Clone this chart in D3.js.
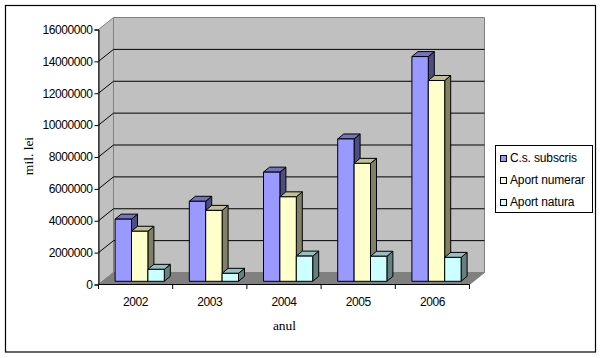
<!DOCTYPE html>
<html><head><meta charset="utf-8">
<script src="https://cdn.jsdelivr.net/npm/d3@7"></script>
<style>html,body{margin:0;padding:0;background:#fff}svg{display:block}</style></head>
<body><svg id="c" width="602" height="358"></svg>
<script>
const years = ["2002","2003","2004","2005","2006"];
const seriesNames = ["C.s. subscris","Aport numerar","Aport natura"];
const csSubscris = [3900000,5020000,6850000,8930000,14100000];
const aportNumerar = [3140000,4450000,5300000,7400000,12600000];
const aportNatura = [750000,500000,1580000,1570000,1500000];
const seriesValues = [csSubscris,aportNumerar,aportNatura];
const yTicks = [0,2000000,4000000,6000000,8000000,10000000,12000000,14000000,16000000];
const front = ["#9999FF","#FFFFCC","#CCFFFF"];
const topC = ["#7373BF","#BFBF99","#99BFBF"];
const sideC = ["#4D4D80","#808066","#668080"];

const svg = d3.select("#c");
const L=98.5,R=469.5,T=29.5,B=284.5,DX=15,DY=12;
const x = d3.scaleBand().domain(years).range([L,R]);
const y = d3.scaleLinear().domain([0,16000000]).range([B,T]);
const xs = d3.scaleBand().domain(d3.range(3)).range([12.6,61.8]);
const line = d3.line();
const poly=(pts,fill,stroke,sw)=>svg.append("path").attr("d",line(pts)+"Z").attr("fill",fill).attr("stroke",stroke||"none").attr("stroke-width",sw||1);

svg.append("rect").attr("x",5.5).attr("y",5.5).attr("width",590).attr("height",346.5).attr("fill","#fff").attr("stroke","#000").attr("stroke-width",1.2);

// walls and floor
poly([[L+DX,T-DY],[R+DX,T-DY],[R+DX,B-DY],[L+DX,B-DY]],"#C0C0C0","#808080");
poly([[L,T],[L+DX,T-DY],[L+DX,B-DY],[L,B]],"#C0C0C0","#808080");
poly([[L,B],[L+DX,B-DY],[R+DX,B-DY],[R,B]],"#808080","#808080");

// gridlines
yTicks.slice(1,-1).forEach(v=>{
  svg.append("path").attr("d",line([[L,y(v)],[L+DX,y(v)-DY],[R+DX,y(v)-DY]])).attr("fill","none").attr("stroke","#000");
});

// bars
const zA=4,zB=10,dA=3.2,dB=8.2;
years.forEach((yr,i)=>{
  seriesValues.forEach((vals,s)=>{
    const x0=x(yr)+xs(s)+zA, x1=x0+xs.bandwidth();
    const yB=B-dA, yT=y(vals[i])-dA, ox=zB-zA, oy=dB-dA;
    poly([[x1,yB],[x1+ox,yB-oy],[x1+ox,yT-oy],[x1,yT]],sideC[s],"#000");
    poly([[x0,yT],[x0+ox,yT-oy],[x1+ox,yT-oy],[x1,yT]],topC[s],"#000");
    poly([[x0,yB],[x1,yB],[x1,yT],[x0,yT]],front[s],"#000");
  });
});

// axes
const ax=svg.append("g").attr("transform",`translate(${L},0)`).call(d3.axisLeft(y).tickValues(yTicks).tickFormat(d3.format("d")).tickSize(4).tickPadding(2));
ax.selectAll("text").attr("font-family","Liberation Sans, Arial").attr("font-size",12).attr("letter-spacing",-0.42).attr("fill","#000");
const bx=svg.append("g").attr("transform",`translate(0,${B})`);
bx.append("path").attr("d",line([[L,0],[R,0]])).attr("stroke","#000").attr("fill","none");
[...years.map(d=>x(d)),R].forEach(px=>bx.append("path").attr("d",line([[px,0],[px,4.5]])).attr("stroke","#000"));
years.forEach(d=>bx.append("text").attr("x",x(d)+x.bandwidth()/2).attr("y",21).attr("text-anchor","middle").attr("font-family","Liberation Sans, Arial").attr("font-size",12).attr("letter-spacing",-0.42).text(d));

svg.append("text").attr("transform","translate(33,156) rotate(-90)").attr("text-anchor","middle").attr("font-family","Liberation Serif, Times New Roman").attr("font-size",13.5).text("mil. lei");
svg.append("text").attr("x",284.5).attr("y",329.5).attr("text-anchor","middle").attr("font-family","Liberation Serif, Times New Roman").attr("font-size",13.5).text("anul");

// legend
const lg=svg.append("g");
lg.append("rect").attr("x",495.5).attr("y",145.5).attr("width",97).attr("height",67).attr("fill","#fff").attr("stroke","#000");
seriesNames.forEach((n,i)=>{
  const cy=158.5+i*22;
  lg.append("rect").attr("x",500.5).attr("y",cy-3).attr("width",6).attr("height",6).attr("fill",front[i]).attr("stroke","#000");
  lg.append("text").attr("x",510).attr("y",cy+3.5).attr("font-family","Liberation Sans, Arial").attr("font-size",12).attr("letter-spacing",-0.14).text(n);
});
</script></body></html>
